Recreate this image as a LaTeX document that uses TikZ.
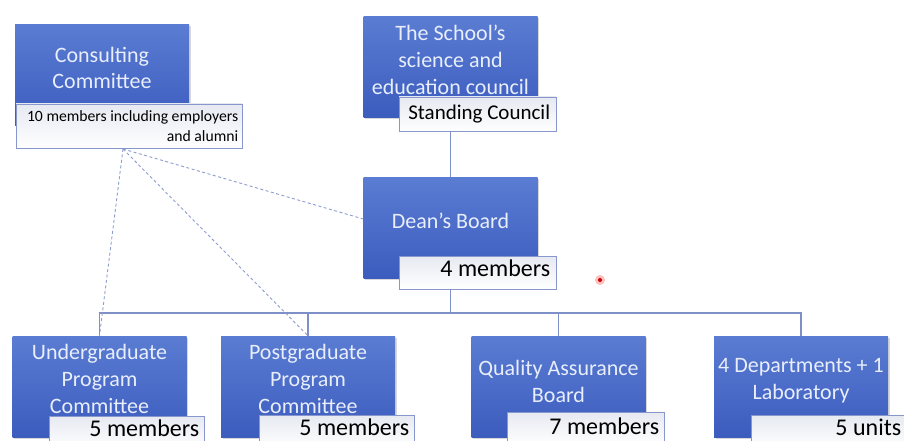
\documentclass[tikz,border=0pt]{standalone}
\usepackage{fontspec}
\setmainfont{Carlito}
\usetikzlibrary{shadows}
\definecolor{boxtop}{HTML}{5A7CD2}
\definecolor{boxbot}{HTML}{3C5CBE}
\definecolor{boxtxt}{HTML}{E8EEFB}
\definecolor{tagline}{HTML}{8796CC}
\definecolor{tagtop}{HTML}{E6E9F1}
\definecolor{conn}{HTML}{7F90C8}
\definecolor{dashc}{HTML}{8E9DD0}
\begin{document}
\begin{tikzpicture}[x=1pt,y=-1pt,
  bluebox/.style={rectangle, top color=boxtop, bottom color=boxbot, minimum width=174pt, minimum height=101pt, inner sep=0pt, drop shadow={opacity=0.3, shadow xshift=1.5pt, shadow yshift=-1.5pt}},
  boxtext/.style={text=boxtxt, font=\fontsize{22}{27}\selectfont, align=center, inner sep=0pt},
  tagbox/.style={rectangle, draw=tagline, line width=0.8pt, top color=tagtop, bottom color=white, inner sep=0pt, minimum height=33pt, minimum width=156pt, drop shadow={opacity=0.15, shadow xshift=1pt, shadow yshift=-1pt}},
  tagtext/.style={font=\fontsize{24}{28}\selectfont, anchor=base east, inner sep=0pt, text=black},
  conline/.style={draw=conn, line width=1.2pt},
  dashline/.style={draw=dashc, line width=0.9pt, dash pattern=on 3pt off 2.5pt}]
\useasboundingbox (0,0) rectangle (904,441);
\fill[white] (0,0) rectangle (904,441);

% top left
\node[bluebox] (cons) at (102,75) {};
\node[boxtext, font=\fontsize{22}{26}\selectfont] (consT) at (102,67.5) {Consulting\\Committee};
\node[tagbox, minimum width=226pt, minimum height=44pt] (consL) at (129,126) {};
\node[tagtext, anchor=east, font=\fontsize{15.7}{19.5}\selectfont, align=right] (consLT) at ([xshift=-4pt]consL.east) {10 members including employers\\and alumni};

% school council
\node[bluebox] (school) at (450.5,67.5) {};
\node[boxtext] (schoolT) at (450.5,60) {The School’s\\science and\\education council};
\node[tagbox, minimum height=34pt, minimum width=157pt] (schoolL) at (477.5,114) {};
\node[tagtext, font=\fontsize{21}{24}\selectfont] (schoolLT) at ([xshift=-6pt,yshift=-6pt]schoolL.east) {Standing Council};

% dean
\node[bluebox] (dean) at (450.5,228) {};
\node[boxtext] (deanT) at (450.5,221) {Dean’s Board};
\node[tagbox, minimum width=157pt] (deanL) at (477.5,272.5) {};
\node[tagtext] (deanLT) at ([xshift=-6pt,yshift=-3.5pt]deanL.east) {4 members};

% bottom row
\node[bluebox] (ug) at (99.5,386.5) {};
\node[boxtext] (ugT) at (99.5,379) {Undergraduate\\Program\\Committee};
\node[tagbox, minimum width=155pt] (ugL) at (126.5,432.5) {};
\node[tagtext] (ugLT) at ([xshift=-5pt,yshift=-3.5pt]ugL.east) {5 members};

\node[bluebox] (pg) at (308,386.5) {};
\node[boxtext] (pgT) at (308,379) {Postgraduate\\Program\\Committee};
\node[tagbox, minimum width=155pt] (pgL) at (336.5,431.5) {};
\node[tagtext] (pgLT) at ([xshift=-5pt,yshift=-3.5pt]pgL.east) {5 members};

\node[bluebox] (qa) at (558.5,386.5) {};
\node[boxtext] (qaT) at (558.5,381) {Quality Assurance\\Board};
\node[tagbox, minimum width=157pt] (qaL) at (585.5,428.5) {};
\node[tagtext] (qaLT) at ([xshift=-5pt,yshift=-5.5pt]qaL.east) {7 members};

\node[bluebox] (dept) at (801,386.5) {};
\node[boxtext] (deptT) at (801,381) {4 Departments + 1\\Laboratory};
\node[tagbox] (deptL) at (829,431.5) {};
\node[tagtext] (deptLT) at ([xshift=-6pt,yshift=-3.5pt]deptL.east) {5 units};

% solid connectors
\coordinate (bus) at (450.5,313);
\draw[conline] (school.south |- schoolL.south) -- (dean.north);
\draw[conline] (dean.south |- deanL.south) -- (bus);
\draw[conline] (ug.north) |- (bus) -| (dept.north);
\draw[conline] (pg.north) -- (pg.north |- bus);
\draw[conline] (qa.north) -- (qa.north |- bus);

% dashed connectors
\coordinate (dsrc) at (123,149);
\draw[dashline] (dsrc) -- (ug.north);
\draw[dashline] (dsrc) -- (pg.north);
\draw[dashline] (dsrc) -- ([yshift=9pt]dean.west);

% pointer dot
\node[circle, fill=red!25, minimum size=10pt, inner sep=0pt] (pointer) at (600,280) {};
\node[circle, fill=red!80!black, minimum size=4pt, inner sep=0pt] (pointerc) at (pointer.center) {};
\end{tikzpicture}
\end{document}
